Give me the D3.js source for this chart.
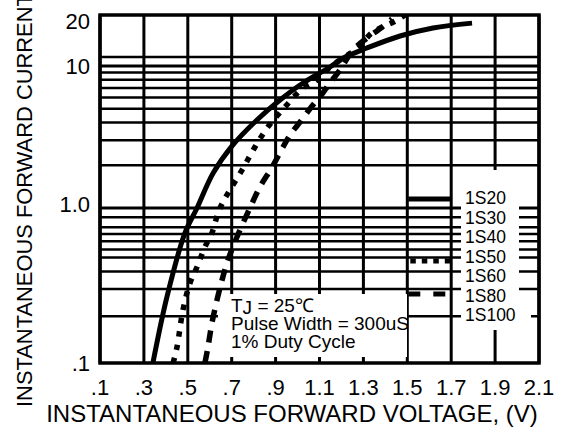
<!DOCTYPE html>
<html>
<head>
<meta charset="utf-8">
<script src="https://cdn.jsdelivr.net/npm/d3@7"></script>
<style>
  body { margin: 0; background: #fff; }
  svg { display: block; }
  text { font-family: "Liberation Sans", Arial, sans-serif; fill: #000; }
</style>
</head>
<body>
<svg id="chart" width="570" height="428"></svg>
<script>
// forward voltage (V) vs forward current (A)
var xTickValues = [0.1, 0.3, 0.5, 0.7, 0.9, 1.1, 1.3, 1.5, 1.7, 1.9, 2.1];
var xTickLabels = [".1", ".3", ".5", ".7", ".9", "1.1", "1.3", "1.5", "1.7", "1.9", "2.1"];
var yTickValues = [0.1, 1, 10, 20];
var yTickLabels = [".1", "1.0", "10", "20"];
var yGridUpper = [2, 3, 4, 5, 6, 7, 8, 9, 10, 11.5];
var yGridLower = [0.2, 0.3, 0.39, 0.48, 0.54, 0.61, 0.68, 0.75, 0.87, 1];

var solidV = [0.341, 0.405, 0.487, 0.542, 0.615, 0.701, 0.815, 0.92, 1.025, 1.148, 1.207, 1.316, 1.467, 1.617, 1.795];
var solidI = [0.1, 0.267, 0.69, 1.0, 1.76, 2.73, 4.17, 5.76, 7.59, 9.84, 11.3, 13.2, 15.9, 18.0, 19.4];

var dottedV = [0.433, 0.451, 0.478, 0.51, 0.542, 0.578, 0.61, 0.638, 0.66, 0.692, 0.747, 0.806, 0.865, 0.943, 1.025, 1.089, 1.148, 1.207, 1.275, 1.339, 1.444, 1.49];
var dottedI = [0.1, 0.127, 0.22, 0.328, 0.416, 0.56, 0.69, 0.93, 1.10, 1.34, 1.85, 2.69, 3.72, 5.15, 7.0, 7.97, 9.8, 11.3, 13.2, 16.7, 20.0, 22];

var dashedV = [0.578, 0.592, 0.61, 0.633, 0.656, 0.683, 0.724, 0.783, 0.829, 0.884, 0.934, 0.966, 1.011, 1.07, 1.102, 1.148, 1.193, 1.253, 1.316, 1.366, 1.398, 1.43];
var dashedI = [0.1, 0.127, 0.181, 0.255, 0.343, 0.462, 0.65, 1.0, 1.41, 1.94, 2.69, 3.27, 4.03, 5.31, 6.05, 7.6, 9.37, 12.8, 15.4, 17.4, 18.9, 20.7];

var legendNames = ["1S20", "1S30", "1S40", "1S50", "1S60", "1S80", "1S100"];
var noteLines = ["Pulse Width = 300uS", "1% Duty Cycle"];

var svg = d3.select("#chart");
var plotLeft = 100, plotRight = 539, plotTop = 15, plotBottom = 363;

var x = d3.scaleLinear().domain([0.1, 2.1]).range([plotLeft, plotRight]);
// the printed grid is not a clean log grid, so the decades get their own pieces
var y = d3.scaleLog().domain([0.1, 1, 10, 22]).range([plotBottom, 208, 66, plotTop]);

function zip(vs, is) {
    var pts = [];
    for (var i = 0; i < vs.length; i++) {
        pts.push({v: vs[i], i: is[i]});
    }
    return pts;
}

// grid
var grid = svg.append("g").attr("stroke", "#000");
grid.selectAll(".h")
    .data(yGridUpper.concat(yGridLower))
    .enter().append("line")
    .attr("x1", plotLeft).attr("x2", plotRight)
    .attr("y1", function (d) { return y(d); })
    .attr("y2", function (d) { return y(d); })
    .attr("stroke-width", function (d) { return (d == 10 || d == 1) ? 3 : 2.5; });
grid.selectAll(".v")
    .data(xTickValues)
    .enter().append("line")
    .attr("x1", function (d) { return x(d); })
    .attr("x2", function (d) { return x(d); })
    .attr("y1", plotTop).attr("y2", plotBottom)
    .attr("stroke-width", 3);
svg.append("rect")
    .attr("x", plotLeft).attr("y", plotTop)
    .attr("width", plotRight - plotLeft).attr("height", plotBottom - plotTop)
    .attr("fill", "none").attr("stroke", "#000").attr("stroke-width", 3.5);

// white boxes for the note and the legend
svg.append("rect").attr("x", 218).attr("y", 294).attr("width", 189).attr("height", 63).attr("fill", "#fff");
svg.append("rect").attr("x", 461).attr("y", 170).attr("width", 58).attr("height", 160).attr("fill", "#fff");
svg.append("rect").attr("x", 461).attr("y", 306).attr("width", 70).attr("height", 24).attr("fill", "#fff");

// curves
var line = d3.line()
    .x(function (d) { return x(d.v); })
    .y(function (d) { return y(d.i); })
    .curve(d3.curveCatmullRom.alpha(0.5));

svg.append("clipPath").attr("id", "plotclip")
    .append("rect").attr("x", plotLeft).attr("y", plotTop - 1)
    .attr("width", plotRight - plotLeft).attr("height", plotBottom - plotTop + 1);

var curves = svg.append("g").attr("clip-path", "url(#plotclip)");
curves.append("path").datum(zip(dashedV, dashedI))
    .attr("d", line).attr("fill", "none").attr("stroke", "#000")
    .attr("stroke-width", 5.5).attr("stroke-dasharray", "12,9");
curves.append("path").datum(zip(dottedV, dottedI))
    .attr("d", line).attr("fill", "none").attr("stroke", "#000")
    .attr("stroke-width", 5.5).attr("stroke-dasharray", "5.5,8");
curves.append("path").datum(zip(solidV, solidI))
    .attr("d", line).attr("fill", "none").attr("stroke", "#000")
    .attr("stroke-width", 5);

// legend samples
var lx1 = x(1.5) + 1, lx2 = x(1.7) - 1;
svg.append("line").attr("x1", lx1).attr("x2", lx2).attr("y1", 199).attr("y2", 199)
    .attr("stroke", "#000").attr("stroke-width", 5);
svg.append("line").attr("x1", lx1 + 2).attr("x2", lx2).attr("y1", 261).attr("y2", 261)
    .attr("stroke", "#000").attr("stroke-width", 5).attr("stroke-dasharray", "5.5,6");
svg.append("line").attr("x1", lx1).attr("x2", lx2).attr("y1", 294).attr("y2", 294)
    .attr("stroke", "#000").attr("stroke-width", 5).attr("stroke-dasharray", "12,13");

svg.selectAll(".leg")
    .data(legendNames)
    .enter().append("text")
    .attr("x", 465)
    .attr("y", function (d, i) { return 198 + i * 19.5; })
    .attr("dy", "0.35em")
    .attr("font-size", 17.5)
    .text(function (d) { return d; });

// note
var note = svg.append("text").attr("x", 231).attr("y", 312).attr("font-size", 19);
note.append("tspan").text("T");
note.append("tspan").attr("dy", 2).text("J");
note.append("tspan").attr("dy", -2).text(" = 25℃");
svg.selectAll(".note")
    .data(noteLines)
    .enter().append("text")
    .attr("x", 231)
    .attr("y", function (d, i) { return 330 + i * 18; })
    .attr("font-size", 19)
    .text(function (d) { return d; });

// tick labels
svg.selectAll(".xt")
    .data(xTickValues)
    .enter().append("text")
    .attr("x", function (d) { return x(d); })
    .attr("y", 395)
    .attr("text-anchor", "middle")
    .attr("font-size", 22)
    .text(function (d, i) { return xTickLabels[i]; });
svg.selectAll(".yt")
    .data(yTickValues)
    .enter().append("text")
    .attr("x", 90)
    .attr("y", function (d) { return d == 1 ? y(d) - 4 : y(d); })
    .attr("dy", "0.35em")
    .attr("text-anchor", "end")
    .attr("font-size", 22)
    .text(function (d, i) { return yTickLabels[i]; });

// axis titles
svg.append("text")
    .attr("x", 292).attr("y", 422)
    .attr("text-anchor", "middle")
    .attr("font-size", 24)
    .text("INSTANTANEOUS FORWARD VOLTAGE, (V)");
svg.append("text")
    .attr("transform", "translate(32,407) rotate(-90)")
    .attr("font-size", 21.9)
    .text("INSTANTANEOUS FORWARD CURRENT, (A)");
</script>
</body>
</html>
